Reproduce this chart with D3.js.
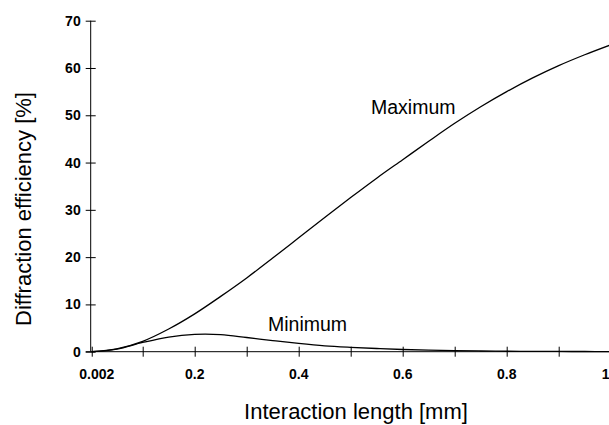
<!DOCTYPE html>
<html>
<head>
<meta charset="utf-8">
<script src="https://cdn.jsdelivr.net/npm/d3@7"></script>
<style>
  html, body { margin: 0; padding: 0; background: #fff; }
  svg { display: block; }
  text { font-family: "Liberation Sans", Arial, Helvetica, sans-serif; fill: #000; }
</style>
</head>
<body>
<svg id="chart" width="609" height="425"></svg>
<script>
// Interaction length [mm]
const lengths = [0.002, 0.05, 0.1, 0.15, 0.2, 0.25, 0.3, 0.35, 0.4, 0.45, 0.5, 0.55, 0.6, 0.65, 0.7, 0.75, 0.8, 0.85, 0.9, 0.95, 1.0];
// Diffraction efficiency [%]
const maximumValues = [0, 0.6, 2.2, 4.8, 8.0, 11.7, 15.6, 19.8, 24.1, 28.4, 32.6, 36.7, 40.6, 44.5, 48.3, 51.8, 55.0, 57.9, 60.5, 62.8, 64.9];
const minimumValues = [0, 0.55, 1.95, 3.1, 3.65, 3.6, 3.0, 2.35, 1.75, 1.25, 0.93, 0.68, 0.47, 0.32, 0.22, 0.15, 0.1, 0.07, 0.05, 0.04, 0.03];

const xTickValues = [0.002, 0.1, 0.2, 0.3, 0.4, 0.5, 0.6, 0.7, 0.8, 0.9, 1.0];
const xLabelValues = [0.002, 0.2, 0.4, 0.6, 0.8, 1.0];
const xLabelTexts = ["0.002", "0.2", "0.4", "0.6", "0.8", "1"];
const yTickValues = [0, 10, 20, 30, 40, 50, 60, 70];

const seriesNames = ["Maximum", "Minimum"];
const xTitle = "Interaction length [mm]";
const yTitle = "Diffraction efficiency [%]";

const svg = d3.select("#chart");
const x = d3.scaleLinear().domain([0, 1]).range([90.7, 610.7]);
const y = d3.scaleLinear().domain([0, 70]).range([351.7, 20.7]);

// X axis
const xAxis = d3.axisBottom(x).tickValues(xTickValues).tickSize(5).tickFormat("");
const gx = svg.append("g").attr("transform", `translate(0,${y(0)})`).call(xAxis);
gx.select(".domain").remove();
gx.append("line").attr("x1", x(0) - 5).attr("x2", 612).attr("y1", 0).attr("y2", 0)
  .attr("stroke", "#000").attr("stroke-width", 1);
gx.selectAll(".tick line").attr("y1", -5).attr("y2", 5).attr("stroke", "#000");

const lastIdx = xLabelValues.length - 1;
svg.selectAll(".xlabel").data(xLabelValues).enter().append("text")
  .attr("class", "xlabel")
  .attr("x", (d, i) => x(d) + (i === 0 ? 5 : (i === lastIdx ? -5 : 0)))
  .attr("y", 378.5)
  .attr("text-anchor", "middle")
  .attr("font-size", 14).attr("font-weight", "bold")
  .text((d, i) => xLabelTexts[i]);

// Y axis
const yAxis = d3.axisLeft(y).tickValues(yTickValues).tickSize(5).tickFormat("");
const gy = svg.append("g").attr("transform", `translate(${x(0)},0)`).call(yAxis);
gy.select(".domain").remove();
gy.append("line").attr("x1", 0).attr("x2", 0).attr("y1", y(70)).attr("y2", y(0))
  .attr("stroke", "#000").attr("stroke-width", 1);
gy.selectAll(".tick line").attr("x1", -5).attr("x2", 5).attr("stroke", "#000");
gy.selectAll(".ylabel").data(yTickValues).enter().append("text")
  .attr("class", "ylabel")
  .attr("x", -10)
  .attr("y", d => y(d) + 5)
  .attr("text-anchor", "end")
  .attr("font-size", 14).attr("font-weight", "bold")
  .text(d => d);

// Lines
const line = d3.line().x(d => x(d[0])).y(d => y(d[1])).curve(d3.curveCatmullRom.alpha(0.5));
const maxData = lengths.map((l, i) => [l, maximumValues[i]]);
const minData = lengths.map((l, i) => [l, minimumValues[i]]);
[maxData, minData].forEach(data => {
  svg.append("path").datum(data).attr("d", line)
    .attr("fill", "none").attr("stroke", "#000").attr("stroke-width", 1.3);
});

// Series labels
svg.append("text").attr("x", 371).attr("y", 114).attr("font-size", 19.5).text(seriesNames[0]);
svg.append("text").attr("x", 268).attr("y", 331).attr("font-size", 19.5).text(seriesNames[1]);

// Axis titles
svg.append("text").attr("x", 356).attr("y", 419).attr("text-anchor", "middle")
  .attr("font-size", 22).text(xTitle);
svg.append("text").attr("transform", "translate(31,209) rotate(-90)")
  .attr("text-anchor", "middle").attr("font-size", 22).text(yTitle);
</script>
</body>
</html>
